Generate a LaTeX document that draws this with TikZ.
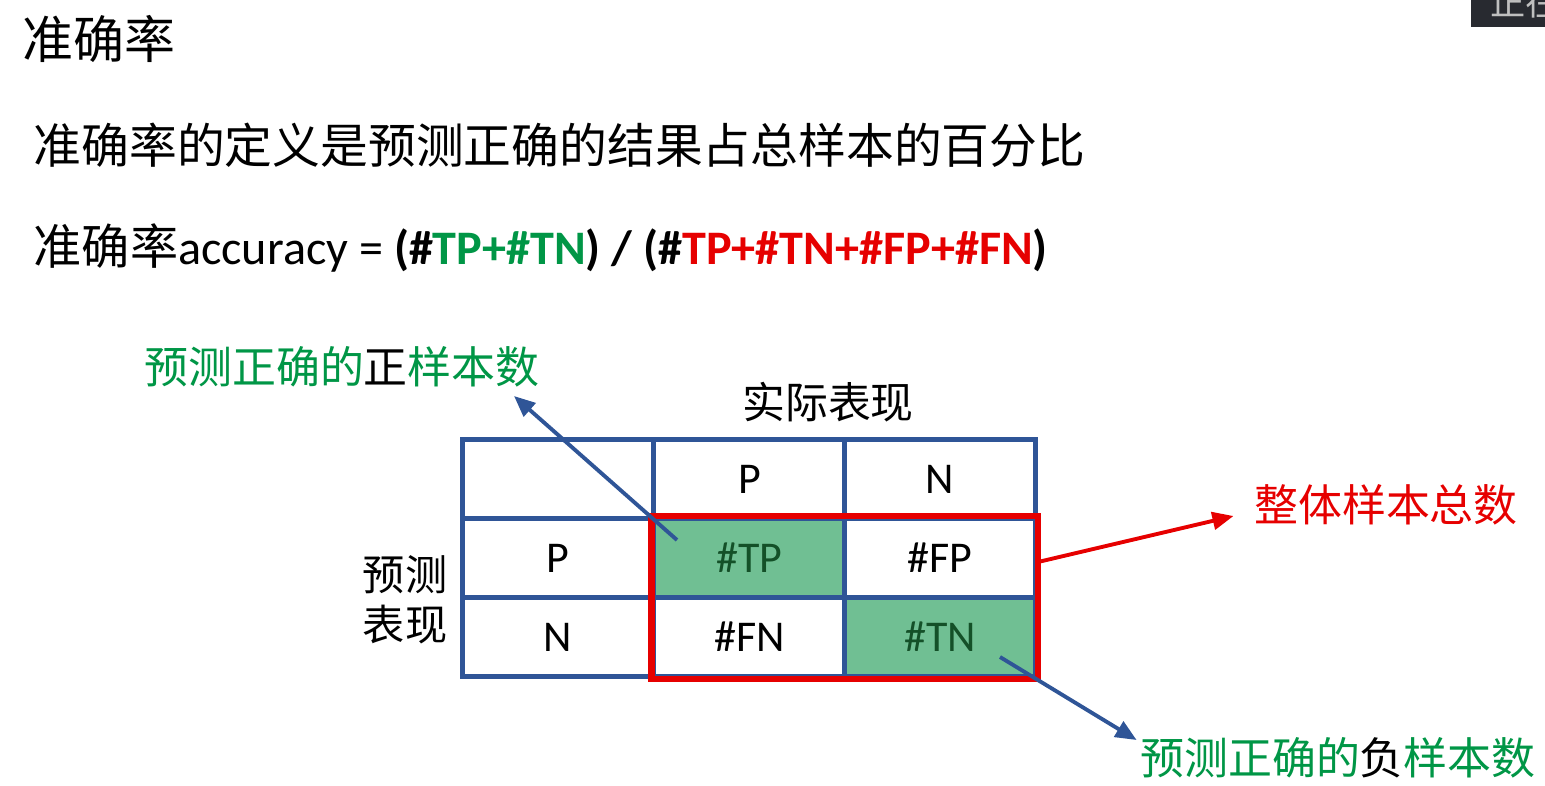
\documentclass[tikz,border=0pt]{standalone}
\usepackage{fontspec}
\setmainfont{Carlito}
\newfontfamily\cjk{Noto Sans CJK SC}
\usetikzlibrary{arrows.meta}
\definecolor{tblue}{RGB}{47,85,151}
\definecolor{tgreen}{RGB}{0,150,70}
\definecolor{cellgreen}{RGB}{112,191,147}
\definecolor{darkgreen}{RGB}{20,80,40}
\definecolor{tred}{RGB}{230,0,0}
\definecolor{barbg}{RGB}{40,42,48}

\begin{document}
\begin{tikzpicture}[
    cell/.style={draw=tblue,line width=1.4pt,minimum width=1.91cm,minimum height=0.79cm,inner sep=0pt,font=\fontsize{12.5}{15}\selectfont},
    hit/.style={cell,fill=cellgreen,text=darkgreen},
    pointer/.style={-{Triangle[length=6pt,width=5pt]},line width=1.1pt},
    cjktext/.style={inner sep=0pt,font=\cjk\fontsize{12.5}{15}\selectfont}]
    \useasboundingbox (0,0) rectangle (15.45,-7.85);
    % header lines
    \node[anchor=west,inner sep=0pt,font=\cjk\fontsize{14.5}{17}\selectfont] (title) at (0.22,-0.39) {准确率};
    \node[anchor=west,inner sep=0pt,font=\cjk\fontsize{13.6}{16}\selectfont] (defn) at (0.33,-1.45) {准确率的定义是预测正确的结果占总样本的百分比};
    \node[anchor=base west,inner sep=0pt,font=\fontsize{13.7}{16}\selectfont] (formula) at (0.33,-2.64) {{\cjk 准确率}accuracy = \textbf{(\#\textcolor{tgreen}{TP+\#TN}) / (\#\textcolor{tred}{TP+\#TN+\#FP+\#FN})}};
    % confusion matrix
    \node[cell] (corner) at (5.58,-4.79) {};
    \node[cell] (colp) at (7.495,-4.79) {P};
    \node[cell] (coln) at (9.40,-4.79) {N};
    \node[cell] (rowp) at (5.58,-5.58) {P};
    \node[hit] (tp) at (7.495,-5.58) {\#TP};
    \node[cell] (fp) at (9.40,-5.58) {\#FP};
    \node[cell] (rown) at (5.58,-6.37) {N};
    \node[cell] (fn) at (7.495,-6.37) {\#FN};
    \node[hit] (tn) at (9.40,-6.37) {\#TN};
    \draw[tred,line width=1.9pt] (tp.north west) rectangle (tn.south east);
    \node[cjktext,font=\cjk\fontsize{12.2}{15}\selectfont] (actual) at (8.28,-4.02) {实际表现};
    \node[cjktext,align=center,font=\cjk\fontsize{12}{14.2}\selectfont] (pred) at (4.05,-6.00) {预测\\表现};
    % callouts
    \node[cjktext,text=tgreen] (poslbl) at (3.42,-3.67) {预测正确的\textcolor{black}{正}样本数};
    \node[cjktext,text=tred] (totlbl) at (13.86,-5.05) {整体样本总数};
    \node[cjktext,text=tgreen] (neglbl) at (13.38,-7.58) {预测正确的\textcolor{black}{负}样本数};
    \coordinate (tpin) at (6.77,-5.40);
    \coordinate (postip) at (5.14,-3.96);
    \draw[pointer,tblue] (tpin) -- (postip);
    \draw[pointer,tred] ([yshift=-0.04cm]fp.east) -- ([xshift=-0.2cm,yshift=-0.11cm]totlbl.west);
    \draw[pointer,tblue] ([xshift=0.6cm,yshift=-0.2cm]tn.center) -- ([xshift=-0.03cm,yshift=0.18cm]neglbl.west);
    % corner badge
    \begin{scope}
        \clip (14.71,0) rectangle (15.45,-0.27);
        \fill[barbg] (14.71,0) rectangle (15.45,-0.27);
        \node[text=gray!50,anchor=west,inner sep=0pt,font=\cjk\fontsize{10}{12}\selectfont] (badge) at (14.90,-0.02) {正在讲};
    \end{scope}
\end{tikzpicture}
\end{document}
